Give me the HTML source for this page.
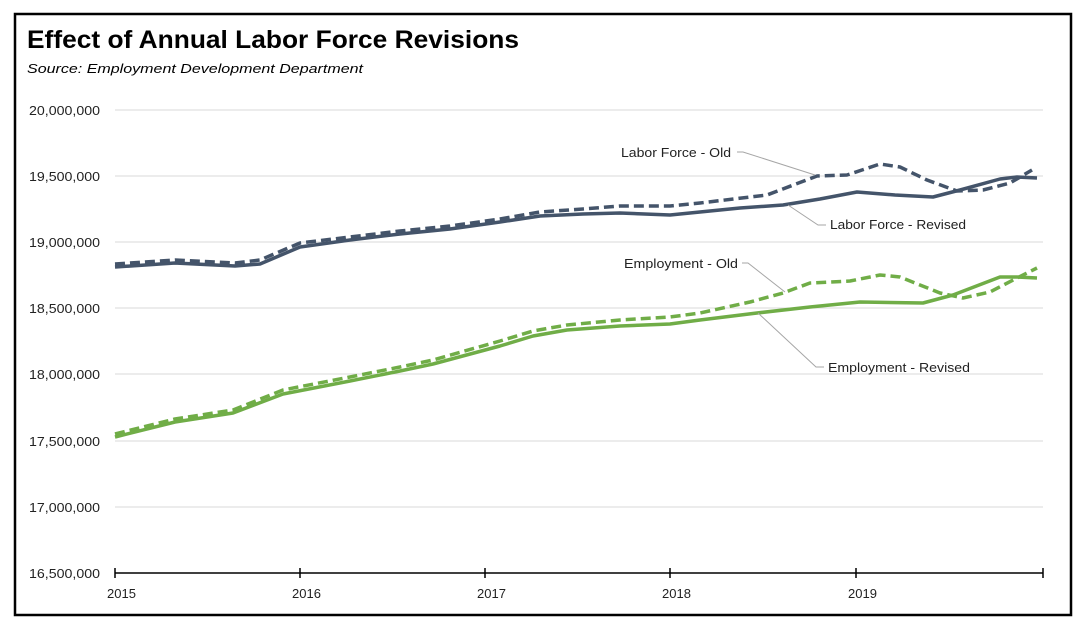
<!DOCTYPE html>
<html><head><meta charset="utf-8"><style>
html,body{margin:0;padding:0;background:#fff;}
svg{display:block;font-family:"Liberation Sans",sans-serif;}
</style></head><body>
<svg width="1086" height="628" viewBox="0 0 1086 628">
<rect x="15" y="14" width="1056" height="601" fill="#fff" stroke="#000" stroke-width="2.5"/>
<text x="27" y="48" font-size="25" font-weight="bold" textLength="492" lengthAdjust="spacingAndGlyphs">Effect of Annual Labor Force Revisions</text>
<text x="27" y="73" font-size="13" font-style="italic" textLength="336" lengthAdjust="spacingAndGlyphs">Source:  Employment Development Department</text>
<g stroke="#d9d9d9" stroke-width="1">
<line x1="115" x2="1043" y1="110" y2="110"/><line x1="115" x2="1043" y1="176" y2="176"/>
<line x1="115" x2="1043" y1="242" y2="242"/><line x1="115" x2="1043" y1="308" y2="308"/>
<line x1="115" x2="1043" y1="374" y2="374"/><line x1="115" x2="1043" y1="441" y2="441"/>
<line x1="115" x2="1043" y1="507" y2="507"/>
</g>
<g font-size="13" text-anchor="end" fill="#222">
<text x="100" y="115" textLength="71" lengthAdjust="spacingAndGlyphs">20,000,000</text>
<text x="100" y="181" textLength="71" lengthAdjust="spacingAndGlyphs">19,500,000</text>
<text x="100" y="247" textLength="71" lengthAdjust="spacingAndGlyphs">19,000,000</text>
<text x="100" y="313" textLength="71" lengthAdjust="spacingAndGlyphs">18,500,000</text>
<text x="100" y="379" textLength="71" lengthAdjust="spacingAndGlyphs">18,000,000</text>
<text x="100" y="446" textLength="71" lengthAdjust="spacingAndGlyphs">17,500,000</text>
<text x="100" y="512" textLength="71" lengthAdjust="spacingAndGlyphs">17,000,000</text>
<text x="100" y="578" textLength="71" lengthAdjust="spacingAndGlyphs">16,500,000</text>
</g>
<g stroke="#000" stroke-width="1.5">
<line x1="115" x2="1043" y1="573" y2="573"/>
<line x1="115" x2="115" y1="568" y2="578"/><line x1="300" x2="300" y1="568" y2="578"/>
<line x1="485" x2="485" y1="568" y2="578"/><line x1="670" x2="670" y1="568" y2="578"/>
<line x1="856" x2="856" y1="568" y2="578"/><line x1="1043" x2="1043" y1="568" y2="578"/>
</g>
<g font-size="13" fill="#222">
<text x="107" y="598">2015</text><text x="292" y="598">2016</text>
<text x="477" y="598">2017</text><text x="662" y="598">2018</text><text x="848" y="598">2019</text>
</g>
<g fill="none" stroke-width="3.5" stroke-linejoin="round" stroke-linecap="butt">
<polyline stroke="#44546a" points="115,267 175,263 235,266 260,264 300,247 350,240 400,234 450,229 500,222 540,216 583,214 620,213 670,215 700,212 740,208 783,205 820,199 857,192 895,195 933,197 960,190 1000,179 1017,177 1037,178"/>
<polyline stroke="#44546a" stroke-dasharray="10,5" points="115,264 175,260 235,263 260,260 300,243 350,237 400,231 450,226 500,219 540,212 583,209 620,206 670,206 700,203 767,195 817,176 847,175 880,164 900,167 927,180 957,191 983,190 1010,183 1032,170"/>
<polyline stroke="#70ad47" points="115,437 175,422 233,413 283,394 350,381 400,371 433,364 500,346 533,336 567,330 620,326 670,324 700,320 757,313 810,307 860,302 923,303 953,295 1000,277 1017,277 1037,278"/>
<polyline stroke="#70ad47" stroke-dasharray="10,5" points="115,434 175,419 233,410 283,390 350,377 400,367 433,360 500,341 533,331 567,325 620,320 670,317 700,313 750,302 783,293 810,283 850,281 880,275 900,277 940,293 963,298 990,292 1017,278 1037,268"/>
</g>
<g stroke="#a6a6a6" stroke-width="1" fill="none">
<polyline points="737,152 743,152 815,175"/>
<polyline points="826,225 818,225 788,205"/>
<polyline points="742,263 748,263 785,292"/>
<polyline points="824,367 816,367 758,313"/>
</g>
<g font-size="13" fill="#222">
<text x="621" y="157" textLength="110" lengthAdjust="spacingAndGlyphs">Labor Force - Old</text>
<text x="830" y="229" textLength="136" lengthAdjust="spacingAndGlyphs">Labor Force - Revised</text>
<text x="624" y="268" textLength="114" lengthAdjust="spacingAndGlyphs">Employment - Old</text>
<text x="828" y="372" textLength="142" lengthAdjust="spacingAndGlyphs">Employment - Revised</text>
</g>
</svg>
</body></html>
